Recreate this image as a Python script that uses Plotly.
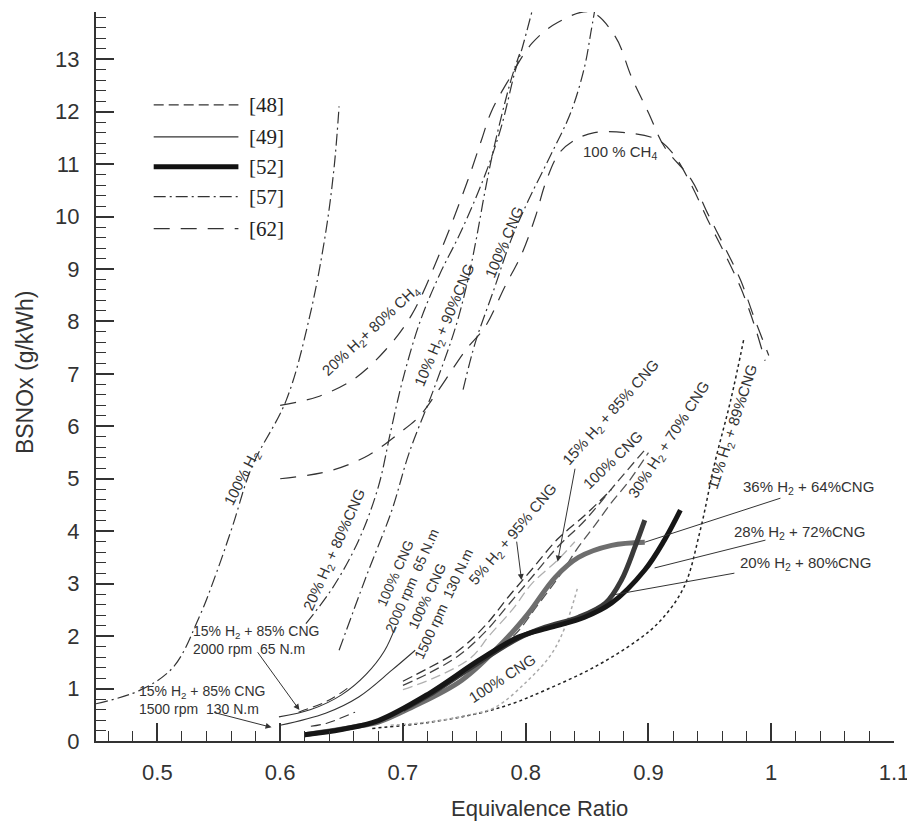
import plotly.graph_objects as go

# ---- curve data (equivalence ratio, BSNOx g/kWh) ----
# [57] dash-dot curves
h2_100_x = [0.45, 0.486, 0.513, 0.534, 0.548, 0.561, 0.577, 0.605, 0.624, 0.637, 0.644, 0.648]
h2_100_y = [0.71, 0.97, 1.41, 2.36, 3.2, 4.08, 5.23, 6.5, 8.09, 9.68, 10.95, 12.1]

h2_20_cng_x = [0.621, 0.643, 0.664, 0.68, 0.69, 0.70, 0.714, 0.73, 0.747, 0.767, 0.78, 0.791, 0.797, 0.805]
h2_20_cng_y = [2.24, 2.93, 3.83, 4.85, 5.9, 6.9, 8.0, 8.9, 9.7, 10.8, 11.7, 12.74, 13.2, 13.9]

h2_10_cng_x = [0.648, 0.67, 0.691, 0.705, 0.725, 0.743, 0.753, 0.76, 0.767, 0.775, 0.788, 0.795]
h2_10_cng_y = [1.73, 3.13, 4.4, 5.49, 6.7, 7.9, 8.8, 9.6, 10.5, 11.4, 12.6, 13.1]

cng_100_top_x = [0.749, 0.759, 0.774, 0.788, 0.802, 0.821, 0.837, 0.848, 0.853, 0.856]
cng_100_top_y = [6.7, 7.6, 8.6, 9.55, 10.3, 11.2, 12.0, 12.86, 13.5, 13.9]

# [62] long-dash CH4 curves
ch4_20_x = [0.60, 0.63, 0.66, 0.686, 0.707, 0.73, 0.753, 0.764, 0.772, 0.786, 0.805, 0.826, 0.853,
            0.873, 0.886, 0.90, 0.913, 0.935, 0.948, 0.962, 0.975, 0.986, 0.998]
ch4_20_y = [6.4, 6.56, 6.9, 7.46, 8.12, 9.3, 10.7, 11.46, 12.0, 12.6, 13.3, 13.7, 13.9,
            13.43, 12.67, 11.98, 11.33, 10.7, 10.07, 9.42, 8.79, 8.08, 7.35]

ch4_100_x = [0.60, 0.642, 0.672, 0.697, 0.713, 0.729, 0.751, 0.767, 0.783, 0.797, 0.808, 0.816, 0.827,
             0.84, 0.856, 0.881, 0.908, 0.92, 0.935, 0.948, 0.962, 0.975, 0.986, 0.995]
ch4_100_y = [5.0, 5.16, 5.45, 5.87, 6.18, 6.69, 7.45, 7.9, 8.66, 9.3, 10.0, 10.63, 11.2,
             11.46, 11.6, 11.6, 11.46, 11.2, 10.6, 9.95, 9.3, 8.65, 7.95, 7.25]

# [49] thin solid
cng_2000_x = [0.599, 0.625, 0.65, 0.67, 0.685, 0.694]
cng_2000_y = [0.46, 0.6, 0.88, 1.27, 1.72, 2.18]
cng_1500_x = [0.60, 0.637, 0.664, 0.691, 0.71]
cng_1500_y = [0.3, 0.53, 0.84, 1.35, 1.73]

# [48] dashed
h2_15_2000_x = [0.615, 0.64, 0.658]
h2_15_2000_y = [0.55, 0.78, 1.06]
h2_15_1500_x = [0.625, 0.638, 0.661]
h2_15_1500_y = [0.28, 0.34, 0.55]

h2_5_x = [0.70, 0.72, 0.745, 0.767, 0.786, 0.806, 0.826, 0.848, 0.87]
h2_5_y = [1.14, 1.38, 1.72, 2.2, 2.75, 3.3, 3.85, 4.3, 4.8]
cng_100_mid_x = [0.70, 0.72, 0.745, 0.767, 0.786, 0.806, 0.826, 0.848, 0.875, 0.897]
cng_100_mid_y = [1.06, 1.28, 1.62, 2.08, 2.6, 3.15, 3.7, 4.2, 4.95, 5.55]
h2_15_mid_x = [0.70, 0.73, 0.756, 0.77, 0.789, 0.805, 0.826, 0.84]
h2_15_mid_y = [0.98, 1.25, 1.6, 2.0, 2.5, 3.0, 3.45, 3.8]
h2_30_x = [0.76, 0.79, 0.81, 0.826, 0.843, 0.856, 0.87, 0.884, 0.90]
h2_30_y = [1.5, 2.0, 2.6, 3.1, 3.7, 4.1, 4.55, 4.95, 5.5]

# [52] thick solid
h2_36_x = [0.62, 0.66, 0.68, 0.707, 0.748, 0.783, 0.802, 0.824, 0.843, 0.87, 0.897]
h2_36_y = [0.12, 0.27, 0.36, 0.64, 1.16, 1.92, 2.43, 3.12, 3.5, 3.73, 3.79]
h2_28_x = [0.62, 0.65, 0.68, 0.721, 0.762, 0.794, 0.821, 0.848, 0.87, 0.897, 0.913, 0.926]
h2_28_y = [0.12, 0.22, 0.39, 0.9, 1.54, 1.98, 2.17, 2.36, 2.63, 3.26, 3.83, 4.4]
h2_20_x = [0.70, 0.72, 0.762, 0.794, 0.816, 0.843, 0.865, 0.878, 0.889, 0.897]
h2_20_y = [0.6, 0.86, 1.5, 1.96, 2.17, 2.36, 2.63, 3.07, 3.7, 4.21]

# dotted
h2_11_x = [0.675, 0.72, 0.762, 0.79, 0.816, 0.856, 0.891, 0.91, 0.929, 0.942, 0.954, 0.967, 0.978]
h2_11_y = [0.24, 0.35, 0.53, 0.72, 0.97, 1.41, 1.92, 2.3, 2.94, 4.0, 5.3, 6.5, 7.7]
cng_100_dot_x = [0.69, 0.72, 0.75, 0.775, 0.802, 0.821, 0.832, 0.842]
cng_100_dot_y = [0.3, 0.36, 0.48, 0.64, 1.16, 1.66, 2.17, 2.9]

legend_refs = ["[48]", "[49]", "[52]", "[57]", "[62]"]

DASH_48 = "10px,5px"
DASH_62 = "16px,11px"
DASH_57 = "12px,4px,2px,4px"

fig = go.Figure()


def add_curve(xs, ys, color, width, dash):
    fig.add_trace(go.Scatter(x=xs, y=ys, mode="lines", showlegend=False, hoverinfo="skip",
                             line=dict(color=color, width=width, dash=dash, shape="spline")))


add_curve(h2_100_x, h2_100_y, "#333", 1.2, DASH_57)
add_curve(h2_20_cng_x, h2_20_cng_y, "#333", 1.2, DASH_57)
add_curve(h2_10_cng_x, h2_10_cng_y, "#333", 1.2, DASH_57)
add_curve(cng_100_top_x, cng_100_top_y, "#333", 1.2, DASH_57)
add_curve(ch4_20_x, ch4_20_y, "#333", 1.2, DASH_62)
add_curve(ch4_100_x, ch4_100_y, "#333", 1.2, DASH_62)
add_curve(cng_2000_x, cng_2000_y, "#333", 1.1, "solid")
add_curve(cng_1500_x, cng_1500_y, "#333", 1.1, "solid")
add_curve(h2_15_2000_x, h2_15_2000_y, "#333", 1.1, DASH_48)
add_curve(h2_15_1500_x, h2_15_1500_y, "#333", 1.1, DASH_48)
add_curve(h2_5_x, h2_5_y, "#333", 1.3, DASH_48)
add_curve(cng_100_mid_x, cng_100_mid_y, "#444", 1.3, DASH_48)
add_curve(h2_15_mid_x, h2_15_mid_y, "#b0b0b0", 1.3, DASH_48)
add_curve(h2_30_x, h2_30_y, "#555", 1.3, DASH_48)
add_curve(h2_11_x, h2_11_y, "#222", 1.5, "dot")
add_curve(cng_100_dot_x, cng_100_dot_y, "#aaaaaa", 1.5, "dot")
add_curve(h2_36_x, h2_36_y, "#6e6e6e", 5, "solid")
add_curve(h2_20_x, h2_20_y, "#3a3a3a", 5, "solid")
add_curve(h2_28_x, h2_28_y, "#161616", 5, "solid")

# legend block (drawn by hand, like the original figure)
leg_y = [12.13, 11.52, 10.95, 10.38, 9.77]
leg_style = [("#333", 1.2, DASH_48), ("#333", 1.2, "solid"), ("#111", 5, "solid"),
             ("#333", 1.2, DASH_57), ("#333", 1.2, DASH_62)]
for ref, yy, (c, w, d) in zip(legend_refs, leg_y, leg_style):
    fig.add_shape(type="line", x0=0.497, x1=0.566, y0=yy, y1=yy, xref="x", yref="y",
                  line=dict(color=c, width=w, dash=d))
    fig.add_annotation(x=0.573, y=yy, text=ref, showarrow=False, xanchor="left", yanchor="middle",
                       font=dict(family="Liberation Serif", size=21, color="#222"))

lab_font = dict(family="Liberation Sans, Arial", size=15, color="#333")
small_font = dict(family="Liberation Sans, Arial", size=14, color="#333")
labels = [
    ("100% H<sub>2</sub>", 0.569, 5.0, -63, lab_font),
    ("20% H<sub>2</sub>+ 80% CH<sub>4</sub>", 0.674, 7.83, -43, lab_font),
    ("10% H<sub>2</sub> + 90%CNG", 0.734, 7.93, -67, lab_font),
    ("100% CNG", 0.782, 9.51, -67, lab_font),
    ("100 % CH<sub>4</sub>", 0.877, 11.23, 0, lab_font),
    ("20% H<sub>2</sub> + 80%CNG", 0.644, 3.64, -66, lab_font),
    ("100% CNG<br>2000 rpm  65 N.m", 0.7006, 3.12, -66, small_font),
    ("100% CNG<br>1500 rpm  130 N.m", 0.7266, 2.68, -65, small_font),
    ("5% H<sub>2</sub> + 95% CNG", 0.79, 3.93, -50, lab_font),
    ("15% H<sub>2</sub> + 85% CNG", 0.8696, 6.27, -48, lab_font),
    ("100% CNG", 0.8712, 5.36, -44, lab_font),
    ("30% H<sub>2</sub> + 70% CNG", 0.9175, 5.74, -57, lab_font),
    ("11% H<sub>2</sub> + 89%CNG", 0.9686, 5.98, -72, lab_font),
    ("100% CNG", 0.7804, 1.2, -33, lab_font),
]
for txt, xx, yy, ang, fnt in labels:
    fig.add_annotation(x=xx, y=yy, text=txt, showarrow=False, textangle=ang,
                       xanchor="center", yanchor="middle", font=fnt)

side_labels = [
    ("36% H<sub>2</sub> + 64%CNG", 1.03, 4.84),
    ("28% H<sub>2</sub> + 72%CNG", 1.023, 3.98),
    ("20% H<sub>2</sub> + 80%CNG", 1.028, 3.39),
]
for txt, xx, yy in side_labels:
    fig.add_annotation(x=xx, y=yy, text=txt, showarrow=False, xanchor="center", yanchor="middle",
                       font=lab_font)

# two-line labels at the lower left
fig.add_annotation(x=0.527, y=1.92, text="15% H<sub>2</sub> + 85% CNG<br>2000 rpm  65 N.m",
                   showarrow=False, xanchor="left", yanchor="middle", align="left", font=small_font)
fig.add_annotation(x=0.4833, y=0.78, text="15% H<sub>2</sub> + 85% CNG<br>1500 rpm  130 N.m",
                   showarrow=False, xanchor="left", yanchor="middle", align="left", font=small_font)

# leader lines from the side labels: (x0, y0, x1, y1)
leaders = [
    (1.0075, 4.63, 0.897, 3.79),
    (0.9953, 3.83, 0.905, 3.30),
    (0.970, 3.20, 0.87, 2.78),
]
for x0, y0, x1, y1 in leaders:
    fig.add_shape(type="line", x0=x0, y0=y0, x1=x1, y1=y1, xref="x", yref="y",
                  line=dict(color="#333", width=1))

# arrows: (tip x, tip y, tail x, tail y)
pointers = [
    (0.7966, 3.07, 0.7925, 3.83),
    (0.826, 3.42, 0.8404, 5.22),
    (0.6157, 0.59, 0.5808, 1.72),
    (0.593, 0.26, 0.5451, 0.55),
]
for tx, ty, sx, sy in pointers:
    fig.add_annotation(x=tx, y=ty, ax=sx, ay=sy, xref="x", yref="y", axref="x", ayref="y",
                       text="", showarrow=True, arrowhead=2, arrowsize=1.2, arrowwidth=1,
                       arrowcolor="#333")

# axis titles
fig.add_annotation(x=0.556, y=-0.092, xref="paper", yref="paper", text="Equivalence Ratio",
                   showarrow=False, xanchor="center", yanchor="middle",
                   font=dict(family="Liberation Sans, Arial", size=22, color="#333"))
fig.add_annotation(x=-0.089, y=0.506, xref="paper", yref="paper", text="BSNOx (g/kWh)",
                   textangle=-90, showarrow=False, xanchor="center", yanchor="middle",
                   font=dict(family="Liberation Sans, Arial", size=23, color="#333"))

axis_common = dict(showgrid=False, zeroline=False, showline=True, linecolor="#333", linewidth=2,
                   ticks="inside", ticklen=18, tickwidth=1.5, tickcolor="#333", automargin=False,
                   tickfont=dict(family="Liberation Sans, Arial", size=22, color="#333"))

fig.update_xaxes(range=[0.45, 1.1], dtick=0.1, tick0=0, ticklabelstandoff=11,
                 minor=dict(dtick=0.02, ticks="inside", ticklen=10, tickcolor="#333", tickwidth=1.2),
                 **axis_common)
fig.update_yaxes(range=[0, 13.9], dtick=1, tick0=0, ticklabelstandoff=10,
                 minor=dict(dtick=0.2, ticks="inside", ticklen=10, tickcolor="#333", tickwidth=1.2),
                 **axis_common)

# page body adds an 8px offset, so the figure is drawn 8px smaller with shifted margins
fig.update_layout(
    width=907, height=820,
    margin=dict(l=88, r=21, t=4, b=87),
    paper_bgcolor="white", plot_bgcolor="white",
    showlegend=False,
)

fig.write_html("out.html")
